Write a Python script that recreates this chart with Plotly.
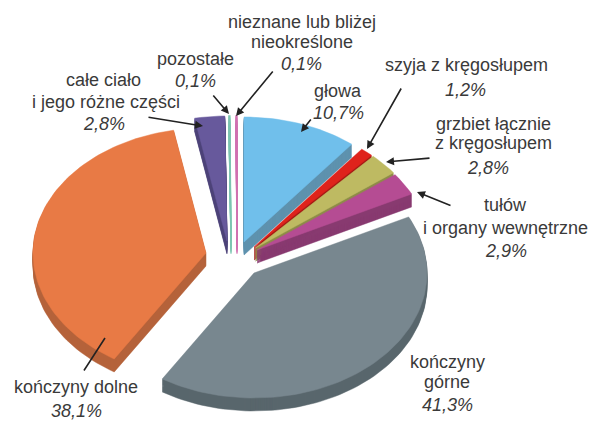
import math
import plotly.graph_objects as go

categories = ["głowa", "szyja z kręgosłupem", "grzbiet łącznie z kręgosłupem",
              "tułów i organy wewnętrzne", "kończyny górne", "kończyny dolne",
              "całe ciało i jego różne części", "pozostałe", "nieznane lub bliżej nieokreślone"]
values = [10.7, 1.2, 2.8, 2.9, 41.3, 38.1, 2.8, 0.1, 0.1]
value_labels = ["10,7%", "1,2%", "2,8%", "2,9%", "41,3%", "38,1%", "2,8%", "0,1%", "0,1%"]

# styles / layout (per slice)
top_colors = ["#70BFEB", "#DF231C", "#BEBA62", "#B54C93", "#78878F", "#E87A45", "#67599C", "#FFFFFF", "#FFFFFF"]
side_colors = ["#5F92AE", "#A51C16", "#8F8C48", "#883A70", "#59666C", "#B5623A", "#4D4378", "#7CC4B0", "#D070B0"]
edge_colors = [None, None, None, None, None, None, None, "#7CC4B0", "#D070B0"]
apex = [(244, 242), (254, 247), (255.5, 248), (257, 250), (254, 273), (206, 253), (227, 241), (231, 241), (237, 241)]
draw_order = [6, 7, 8, 0, 1, 2, 3, 5, 4]
RX, RY, DEPTH = 173, 125, 13

total = sum(values)
starts, acc = [], 0.0
for v in values:
    starts.append(acc)
    acc += v


def wedge(i, dy=0):
    a0 = 2 * math.pi * starts[i] / total
    a1 = 2 * math.pi * (starts[i] + values[i]) / total
    cx, cy = apex[i]
    n = max(2, int(values[i] * 2))
    xs, ys = [cx], [cy + dy]
    for k in range(n + 1):
        t = a0 + (a1 - a0) * k / n
        xs.append(cx + RX * math.sin(t))
        ys.append(cy + dy - RY * math.cos(t))
    xs.append(cx)
    ys.append(cy + dy)
    return xs, ys


fig = go.Figure()
for i in draw_order:
    sx, sy = [], []
    for d in range(1, DEPTH + 1):
        x, y = wedge(i, d)
        sx += x + [None]
        sy += y + [None]
    fig.add_trace(go.Scatter(x=sx, y=sy, mode="lines", fill="toself", fillcolor=side_colors[i],
                             line=dict(width=0.5, color=side_colors[i]), hoverinfo="skip",
                             showlegend=False, name=categories[i]))
    x, y = wedge(i)
    edge = edge_colors[i] or top_colors[i]
    fig.add_trace(go.Scatter(x=x, y=y, mode="lines", fill="toself", fillcolor=top_colors[i],
                             line=dict(width=1.3 if edge_colors[i] else 0.5, color=edge), hoverinfo="skip",
                             showlegend=False, name=categories[i]))

TXT = "#3A3A3A"
texts = [
    ("nieznane lub bliżej", 302, 22, False), ("nieokreślone", 302, 42, False), (value_labels[8], 301, 64, True),
    ("pozostałe", 195, 59, False), (value_labels[7], 195, 81, True),
    ("całe ciało", 103, 80, False), ("i jego różne części", 106, 102, False), (value_labels[6], 104, 124, True),
    ("szyja z kręgosłupem", 466, 65, False), (value_labels[1], 465, 90, True),
    ("głowa", 338, 91, False), (value_labels[0], 338, 113, True),
    ("grzbiet łącznie", 493, 124, False), ("z kręgosłupem", 493, 143, False), (value_labels[2], 488, 168, True),
    ("tułów", 505, 205, False), ("i organy wewnętrzne", 505, 228, False), (value_labels[3], 506, 251, True),
    ("kończyny", 447, 362, False), ("górne", 447, 382, False), (value_labels[4], 447, 405, True),
    ("kończyny dolne", 76, 387, False), (value_labels[5], 76, 411, True),
]
annotations = []
for t, x, y, it in texts:
    annotations.append(dict(x=x, y=y, xref="x", yref="y", text=f"<i>{t}</i>" if it else t, showarrow=False,
                            xanchor="center", yanchor="middle",
                            font=dict(family="Liberation Sans", size=18, color=TXT)))

leaders = [
    (274, 70, 236, 116, 2), (212, 94, 229, 114, 2), (147, 117, 203, 126, 2),
    (312, 118, 301, 132, 2), (402, 87, 367, 149, 2), (431, 158, 386, 162, 2),
    (452, 206, 417, 192, 2), (83, 372, 105, 338, 0),
]
for x0, y0, x1, y1, head in leaders:
    annotations.append(dict(x=x1, y=y1, ax=x0, ay=y0, xref="x", yref="y", axref="x", ayref="y", text="",
                            showarrow=True, arrowhead=head, arrowsize=1, arrowwidth=1.6, arrowcolor="#222222"))

fig.update_layout(
    width=595, height=422, margin=dict(l=0, r=0, t=0, b=0),
    paper_bgcolor="white", plot_bgcolor="white", annotations=annotations,
    xaxis=dict(range=[0, 595], visible=False, fixedrange=True),
    yaxis=dict(range=[422, 0], visible=False, fixedrange=True),
)
fig.write_html("out.html", config={"displayModeBar": False},
               post_script="document.body.style.margin='0';document.documentElement.style.overflow='hidden';")
